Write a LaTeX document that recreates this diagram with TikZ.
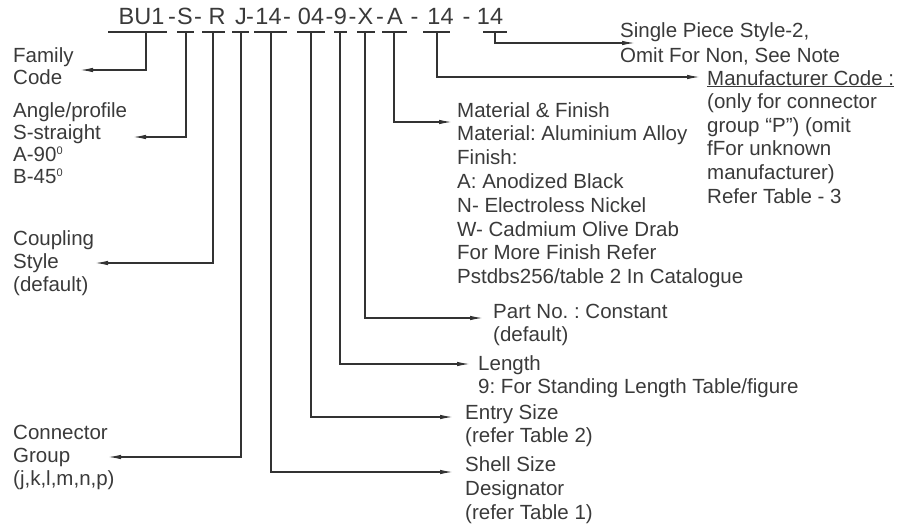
\documentclass[tikz,border=0pt]{standalone}
\usepackage{fontspec}
\setmainfont{Liberation Sans}
\newfontfamily\bodyfam{Liberation Sans}
\usetikzlibrary{arrows.meta}
\definecolor{ink}{HTML}{333333}
\definecolor{txt}{HTML}{3A3A3A}
\newcommand{\degsup}[1]{\raisebox{7pt}{\fontsize{11}{11}\selectfont #1}}
\frenchspacing
\begin{document}
\begin{tikzpicture}[x=1pt,y=-1pt,
  lbl/.style={anchor=base west,inner sep=0pt,align=left,text=txt,
     font=\bodyfam\fontsize{20.5}{23.6}\selectfont},
  lbltight/.style={lbl,font=\bodyfam\fontsize{20.5}{21.7}\selectfont},
  lblmid/.style={lbl,font=\bodyfam\fontsize{20.5}{23}\selectfont},
  hd/.style={anchor=base,inner sep=0pt,text=txt,font=\fontsize{23.5}{28}\selectfont},
  bar/.style={draw=ink,line width=1.3pt},
  arr/.style={draw=ink,line width=1.3pt,-{Latex[length=13pt,width=4.5pt]}}]
\useasboundingbox (0,0) rectangle (912,527);

% header code
\node[hd] (h1) at (141.5,25) {BU1};
\node[hd] (h2) at (172,25) {-};
\node[hd] (h3) at (185,25) {S};
\node[hd] (h4) at (198,25) {-};
\node[hd] (h5) at (217,25) {R};
\node[hd] (h6) at (241,25) {J};
\node[hd] (h7) at (250,25) {-};
\node[hd] (h8) at (268.5,25) {14};
\node[hd] (h9) at (287,25) {-};
\node[hd] (h10) at (311,25) {04};
\node[hd] (h11) at (329.5,25) {-};
\node[hd] (h12) at (340.5,25) {9};
\node[hd] (h13) at (352.5,25) {-};
\node[hd] (h14) at (365.5,25) {X};
\node[hd] (h15) at (380,25) {-};
\node[hd] (h16) at (395,25) {A};
\node[hd] (h17) at (414.5,25) {-};
\node[hd] (h18) at (440.5,25) {14};
\node[hd] (h19) at (466.5,25) {-};
\node[hd] (h20) at (490,25) {14};

% bars under the code
\draw[bar] (108,32) -- (167,32);
\draw[bar] (177,32) -- (194,32);
\draw[bar] (202,32) -- (225,32);
\draw[bar] (232,32) -- (249,32);
\draw[bar] (254,32) -- (287,32);
\draw[bar] (297,32) -- (325,32);
\draw[bar] (334,32) -- (347,32);
\draw[bar] (357,32) -- (375,32);
\draw[bar] (382,32) -- (407,32);
\draw[bar] (423,32) -- (450,32);
\draw[bar] (483,32) -- (507,32);

\coordinate (s1) at (146,32);
\coordinate (s2) at (186,32);
\coordinate (s3) at (213,32);
\coordinate (s4) at (241,32);
\coordinate (s5) at (271,32);
\coordinate (s6) at (311,32);
\coordinate (s7) at (340,32);
\coordinate (s8) at (365,32);
\coordinate (s9) at (394,32);
\coordinate (s10) at (437,32);
\coordinate (s11) at (495,32);

\coordinate (t1) at (80,70);
\coordinate (t2) at (133,137);
\coordinate (t3) at (95,263);
\coordinate (t4) at (108,457);
\coordinate (t5) at (453,472);
\coordinate (t6) at (453,417);
\coordinate (t7) at (470,364);
\coordinate (t8) at (483,318);
\coordinate (t9) at (452,122);
\coordinate (t10) at (700,77);
\coordinate (t11) at (635,43);

% labels (anchored at the baseline of their last line)
\node[lbltight] (fam) at (13,84) {Family\\Code};
\node[lbltight] (ang) at (13,183) {Angle/profile\\S-straight\\A-90\degsup{0}\\B-45\degsup{0}};
\node[lblmid] (cpl) at (13,291) {Coupling\\Style\\(default)};
\node[lblmid] (grp) at (13,485) {Connector\\Group\\(j,k,l,m,n,p)};
\node[lbl] (shl) at (465,519) {Shell Size\\Designator\\(refer Table 1)};
\node[lbl] (ent) at (465,442.6) {Entry Size\\(refer Table 2)};
\node[lbl] (len) at (478,393.6) {Length\\9: For Standing Length Table/figure};
\node[lbl] (prt) at (493,341.6) {Part No. : Constant\\(default)};
\node[lbl,font=\bodyfam\fontsize{20.5}{23.8}\selectfont] (mat) at (457,283.6) {Material \& Finish\\Material: Aluminium Alloy\\Finish:\\A: Anodized Black\\N- Electroless Nickel\\W- Cadmium Olive Drab\\For More Finish Refer\\Pstdbs256/table 2 In Catalogue};
\node[lbl,font=\bodyfam\fontsize{20.5}{25}\selectfont] (sgl) at (620,63) {Single Piece Style-2,\\Omit For Non, See Note};
\node[lbl] (mfr) at (707,203) {\underline{Manufacturer Code :}\\(only for connector\\group “P”) (omit\\fFor unknown\\manufacturer)\\Refer Table - 3};

% connectors
\draw[arr] (s1) |- (t1);
\draw[arr] (s2) |- (t2);
\draw[arr] (s3) |- (t3);
\draw[arr] (s4) |- (t4);
\draw[arr] (s5) |- (t5);
\draw[arr] (s6) |- (t6);
\draw[arr] (s7) |- (t7);
\draw[arr] (s8) |- (t8);
\draw[arr] (s9) |- (t9);
\draw[arr] (s10) |- (t10);
\draw[arr] (s11) |- (t11);
\end{tikzpicture}
\end{document}
